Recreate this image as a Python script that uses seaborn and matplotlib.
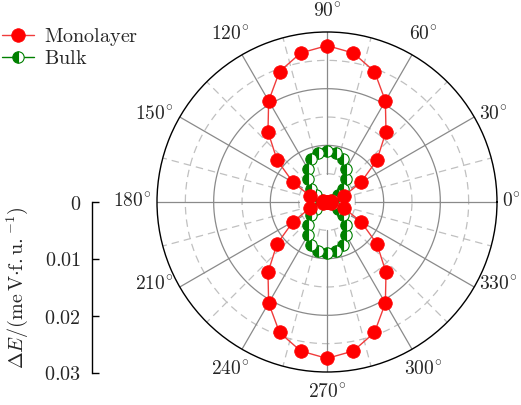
import numpy as np
import matplotlib
matplotlib.use("Agg")
import matplotlib.pyplot as plt
import seaborn as sns

sns.set_theme(style="white")
plt.rcParams["mathtext.fontset"] = "cm"
plt.rcParams["font.family"] = ["DejaVu Serif"]

# ---- data ----
angles_deg = [0, 10, 20, 30, 40, 50, 60, 70, 80, 90, 100, 110, 120, 130, 140, 150, 160, 170,
              180, 190, 200, 210, 220, 230, 240, 250, 260, 270, 280, 290, 300, 310, 320, 330, 340, 350, 360]
monolayer = [0.0000, 0.0008, 0.0032, 0.0069, 0.0115, 0.0162, 0.0206, 0.0245, 0.0267, 0.0276,
             0.0267, 0.0245, 0.0206, 0.0162, 0.0115, 0.0069, 0.0032, 0.0008,
             0.0000, 0.0008, 0.0032, 0.0069, 0.0115, 0.0162, 0.0206, 0.0245, 0.0267, 0.0276,
             0.0267, 0.0245, 0.0206, 0.0162, 0.0115, 0.0069, 0.0032, 0.0008, 0.0000]
bulk = [0.0000, 0.0003, 0.0011, 0.0023, 0.0037, 0.0053, 0.0068, 0.0080, 0.0088, 0.0090,
        0.0088, 0.0080, 0.0068, 0.0053, 0.0037, 0.0023, 0.0011, 0.0003,
        0.0000, 0.0003, 0.0011, 0.0023, 0.0037, 0.0053, 0.0068, 0.0080, 0.0088, 0.0090,
        0.0088, 0.0080, 0.0068, 0.0053, 0.0037, 0.0023, 0.0011, 0.0003, 0.0000]
theta_ticks_deg = [0, 30, 60, 90, 120, 150, 180, 210, 240, 270, 300, 330]
theta_labels = [r"$%d^{\!\circ}$" % a for a in theta_ticks_deg]
r_ticks = [0, 0.01, 0.02, 0.03]
r_ticklabels = ["$0$", "$0.01$", "$0.02$", "$0.03$"]
r_minor = [0.005, 0.015, 0.025]
r_max = 0.03
ylabel = r"$\Delta E/(\mathrm{me\,V{\cdot}f.u.}^{-1})$"
leg_mono = r"$\mathrm{Monolayer}$"
leg_bulk = r"$\mathrm{Bulk}$"

FS = 14.5
FS_T = 14
W, H = 521, 405
fig = plt.figure(figsize=(W / 100, H / 100), dpi=100)

cx, cy, R = 327, 202, 170
ax = fig.add_axes([(cx - R) / W, (H - cy - R) / H, 2 * R / W, 2 * R / H], projection="polar")
ax.set_facecolor("white")

theta = np.deg2rad(angles_deg)

# manual grid (radial lines start at the first minor circle, as in the reference)
circ = np.linspace(0, 2 * np.pi, 721)
major_c, minor_c = "#8a8a8a", "#c0c0c0"
dash = (0, (6, 4))
for r in r_ticks[1:-1]:
    ax.plot(circ, np.full_like(circ, r), color=major_c, lw=0.9, zorder=0.5)
for r in r_minor:
    ax.plot(circ, np.full_like(circ, r), color=minor_c, lw=0.9, ls=dash, zorder=0.4)
for a in theta_ticks_deg:
    t = np.deg2rad(a)
    ax.plot([t, t], [r_minor[0], r_max], color=major_c, lw=0.9, zorder=0.5)
    t2 = np.deg2rad(a + 15)
    ax.plot([t2, t2], [r_minor[0], r_max], color=minor_c, lw=0.9, ls=dash, zorder=0.4)

sns.lineplot(x=theta, y=bulk, ax=ax, sort=False, estimator=None,
             color="green", lw=1.0, marker="o", markersize=8.2,
             markerfacecolor="green", markerfacecoloralt="white", fillstyle="left",
             markeredgecolor="green", markeredgewidth=0.8, label=leg_bulk, zorder=3)
sns.lineplot(x=theta, y=monolayer, ax=ax, sort=False, estimator=None,
             color="#f03c3c", lw=1.0, marker="o", markersize=9.8,
             markerfacecolor="red", markeredgecolor="red", markeredgewidth=0.5,
             label=leg_mono, zorder=4)

ax.set_ylim(0, r_max)
ax.set_yticks([])
ax.set_xticks(np.deg2rad(theta_ticks_deg))
ax.set_xticklabels([""] * len(theta_ticks_deg))
ax.set_xticks(np.deg2rad([a + 15 for a in theta_ticks_deg]), minor=True)
ax.tick_params(axis="x", which="major", direction="in", length=5, width=0.9, color="#333333")
ax.tick_params(axis="x", which="minor", direction="in", length=3, width=0.8, color="#999999")
ax.grid(False)
ax.spines["polar"].set_color("black")
ax.spines["polar"].set_linewidth(1.0)
ax.set_xlabel("")
ax.set_ylabel("")
if ax.get_legend() is not None:
    ax.get_legend().remove()

# angular tick labels placed outside the circle
renderer = fig.canvas.get_renderer()
for a, lab in zip(theta_ticks_deg, theta_labels):
    t = np.deg2rad(a)
    c, s = np.cos(t), np.sin(t)
    if abs(c) > 0.6:
        ha = "left" if c > 0 else "right"
        dx = 5 if c > 0 else -6
        dy = 2 if abs(s) > 0.1 else 0
        ax.annotate(lab, xy=(t, r_max), xycoords="data", xytext=(dx, dy),
                    textcoords="offset pixels", ha=ha, va="center", fontsize=FS_T,
                    annotation_clip=False)
    else:
        tmp = fig.text(0, 0, lab, fontsize=FS_T)
        bb = tmp.get_window_extent(renderer)
        tmp.remove()
        aa = bb.width / 2 + 8
        bbh = bb.height / 2 + 11
        tt = min(aa / max(abs(c), 1e-9), bbh / max(abs(s), 1e-9))
        ax.annotate(lab, xy=(t, r_max), xycoords="data", xytext=(tt * c, tt * s),
                    textcoords="offset pixels", ha="center", va="center", fontsize=FS_T,
                    annotation_clip=False)

handles, labels = ax.get_legend_handles_labels()
order = [labels.index(leg_mono), labels.index(leg_bulk)]
fig.legend([handles[i] for i in order], [labels[i] for i in order],
           loc="upper left", bbox_to_anchor=(0.0, 1 - 24 / H), frameon=False,
           fontsize=FS, handlelength=1.6, handletextpad=0.5, labelspacing=0.05,
           borderaxespad=0, borderpad=0.1)

# left radial scale axis
ax2 = fig.add_axes([92 / W, (H - 373) / H, 0.0001, (373 - 202) / H])
ax2.set_facecolor("none")
ax2.set_ylim(r_max, 0)
ax2.set_yticks(r_ticks)
ax2.set_yticklabels(r_ticklabels, fontsize=FS)
ax2.set_xticks([])
for sp in ["top", "right", "bottom"]:
    ax2.spines[sp].set_visible(False)
ax2.spines["left"].set_color("black")
ax2.spines["left"].set_linewidth(1.0)
ax2.tick_params(axis="y", direction="in", length=5, width=1.0, color="black", pad=8, left=True)
ax2.set_ylabel(ylabel, fontsize=FS, labelpad=10)

fig.savefig("out.png", dpi=100, facecolor="white")
